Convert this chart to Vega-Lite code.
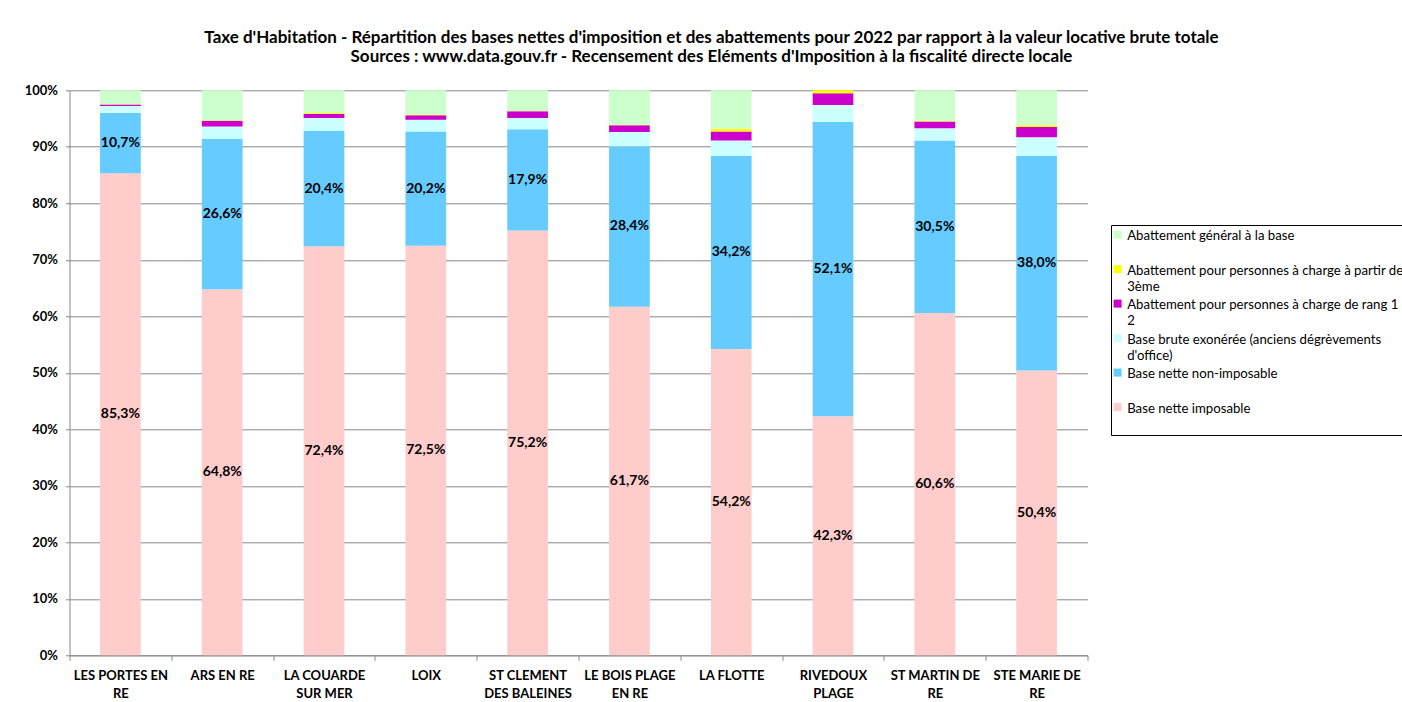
{
  "$schema": "https://vega.github.io/schema/vega-lite/v6.json",
  "width": 1018,
  "height": 565,
  "autosize": {"type": "none"},
  "padding": {"left": 69.5, "top": 90.3, "right": 314.5, "bottom": 46.7},
  "background": "#ffffff",
  "title": {
    "text": ["Taxe d'Habitation - Répartition des bases nettes d'imposition et des abattements pour 2022 par rapport à la valeur locative brute totale", "Sources : www.data.gouv.fr - Recensement des Eléments d'Imposition à la fiscalité directe locale"],
    "anchor": "middle",
    "dx": 133,
    "offset": 18,
    "font": "Lato",
    "fontSize": 17,
    "fontWeight": "bold",
    "lineHeight": 19.5,
    "color": "#000000"
  },
  "config": {
    "locale": {"number": {"decimal": ",", "thousands": " ", "grouping": [3], "currency": ["", " €"]}},
    "view": {"stroke": null},
    "axis": {"labelFont": "Lato", "labelFontWeight": "bold", "labelFontSize": 13, "labelColor": "#000000", "domainColor": "#888888", "tickColor": "#888888", "gridColor": "#888888"}
  },
  "data": {
    "values": [
      {"c": "LES PORTES EN RE", "s": "Base nette imposable", "v": 0.853},
      {"c": "LES PORTES EN RE", "s": "Base nette non-imposable", "v": 0.107},
      {"c": "LES PORTES EN RE", "s": "Base brute exonérée (anciens dégrèvements d'office)", "v": 0.012},
      {"c": "LES PORTES EN RE", "s": "Abattement pour personnes à charge de rang 1 et 2", "v": 0.003},
      {"c": "LES PORTES EN RE", "s": "Abattement pour personnes à charge à partir de la 3ème", "v": 0.0005},
      {"c": "LES PORTES EN RE", "s": "Abattement général à la base", "v": 0.0245},
      {"c": "ARS EN RE", "s": "Base nette imposable", "v": 0.648},
      {"c": "ARS EN RE", "s": "Base nette non-imposable", "v": 0.266},
      {"c": "ARS EN RE", "s": "Base brute exonérée (anciens dégrèvements d'office)", "v": 0.022},
      {"c": "ARS EN RE", "s": "Abattement pour personnes à charge de rang 1 et 2", "v": 0.010},
      {"c": "ARS EN RE", "s": "Abattement pour personnes à charge à partir de la 3ème", "v": 0.001},
      {"c": "ARS EN RE", "s": "Abattement général à la base", "v": 0.053},
      {"c": "LA COUARDE SUR MER", "s": "Base nette imposable", "v": 0.724},
      {"c": "LA COUARDE SUR MER", "s": "Base nette non-imposable", "v": 0.204},
      {"c": "LA COUARDE SUR MER", "s": "Base brute exonérée (anciens dégrèvements d'office)", "v": 0.023},
      {"c": "LA COUARDE SUR MER", "s": "Abattement pour personnes à charge de rang 1 et 2", "v": 0.007},
      {"c": "LA COUARDE SUR MER", "s": "Abattement pour personnes à charge à partir de la 3ème", "v": 0.002},
      {"c": "LA COUARDE SUR MER", "s": "Abattement général à la base", "v": 0.040},
      {"c": "LOIX", "s": "Base nette imposable", "v": 0.725},
      {"c": "LOIX", "s": "Base nette non-imposable", "v": 0.202},
      {"c": "LOIX", "s": "Base brute exonérée (anciens dégrèvements d'office)", "v": 0.021},
      {"c": "LOIX", "s": "Abattement pour personnes à charge de rang 1 et 2", "v": 0.008},
      {"c": "LOIX", "s": "Abattement pour personnes à charge à partir de la 3ème", "v": 0.001},
      {"c": "LOIX", "s": "Abattement général à la base", "v": 0.043},
      {"c": "ST CLEMENT DES BALEINES", "s": "Base nette imposable", "v": 0.752},
      {"c": "ST CLEMENT DES BALEINES", "s": "Base nette non-imposable", "v": 0.179},
      {"c": "ST CLEMENT DES BALEINES", "s": "Base brute exonérée (anciens dégrèvements d'office)", "v": 0.020},
      {"c": "ST CLEMENT DES BALEINES", "s": "Abattement pour personnes à charge de rang 1 et 2", "v": 0.012},
      {"c": "ST CLEMENT DES BALEINES", "s": "Abattement pour personnes à charge à partir de la 3ème", "v": 0.0005},
      {"c": "ST CLEMENT DES BALEINES", "s": "Abattement général à la base", "v": 0.0365},
      {"c": "LE BOIS PLAGE EN RE", "s": "Base nette imposable", "v": 0.617},
      {"c": "LE BOIS PLAGE EN RE", "s": "Base nette non-imposable", "v": 0.284},
      {"c": "LE BOIS PLAGE EN RE", "s": "Base brute exonérée (anciens dégrèvements d'office)", "v": 0.025},
      {"c": "LE BOIS PLAGE EN RE", "s": "Abattement pour personnes à charge de rang 1 et 2", "v": 0.012},
      {"c": "LE BOIS PLAGE EN RE", "s": "Abattement pour personnes à charge à partir de la 3ème", "v": 0.001},
      {"c": "LE BOIS PLAGE EN RE", "s": "Abattement général à la base", "v": 0.061},
      {"c": "LA FLOTTE", "s": "Base nette imposable", "v": 0.542},
      {"c": "LA FLOTTE", "s": "Base nette non-imposable", "v": 0.342},
      {"c": "LA FLOTTE", "s": "Base brute exonérée (anciens dégrèvements d'office)", "v": 0.027},
      {"c": "LA FLOTTE", "s": "Abattement pour personnes à charge de rang 1 et 2", "v": 0.016},
      {"c": "LA FLOTTE", "s": "Abattement pour personnes à charge à partir de la 3ème", "v": 0.005},
      {"c": "LA FLOTTE", "s": "Abattement général à la base", "v": 0.068},
      {"c": "RIVEDOUX PLAGE", "s": "Base nette imposable", "v": 0.423},
      {"c": "RIVEDOUX PLAGE", "s": "Base nette non-imposable", "v": 0.521},
      {"c": "RIVEDOUX PLAGE", "s": "Base brute exonérée (anciens dégrèvements d'office)", "v": 0.030},
      {"c": "RIVEDOUX PLAGE", "s": "Abattement pour personnes à charge de rang 1 et 2", "v": 0.021},
      {"c": "RIVEDOUX PLAGE", "s": "Abattement pour personnes à charge à partir de la 3ème", "v": 0.005},
      {"c": "RIVEDOUX PLAGE", "s": "Abattement général à la base", "v": 0.0},
      {"c": "ST MARTIN DE RE", "s": "Base nette imposable", "v": 0.606},
      {"c": "ST MARTIN DE RE", "s": "Base nette non-imposable", "v": 0.305},
      {"c": "ST MARTIN DE RE", "s": "Base brute exonérée (anciens dégrèvements d'office)", "v": 0.022},
      {"c": "ST MARTIN DE RE", "s": "Abattement pour personnes à charge de rang 1 et 2", "v": 0.012},
      {"c": "ST MARTIN DE RE", "s": "Abattement pour personnes à charge à partir de la 3ème", "v": 0.001},
      {"c": "ST MARTIN DE RE", "s": "Abattement général à la base", "v": 0.054},
      {"c": "STE MARIE DE RE", "s": "Base nette imposable", "v": 0.504},
      {"c": "STE MARIE DE RE", "s": "Base nette non-imposable", "v": 0.380},
      {"c": "STE MARIE DE RE", "s": "Base brute exonérée (anciens dégrèvements d'office)", "v": 0.033},
      {"c": "STE MARIE DE RE", "s": "Abattement pour personnes à charge de rang 1 et 2", "v": 0.018},
      {"c": "STE MARIE DE RE", "s": "Abattement pour personnes à charge à partir de la 3ème", "v": 0.003},
      {"c": "STE MARIE DE RE", "s": "Abattement général à la base", "v": 0.062}
    ]
  },
  "transform": [
    {"calculate": "indexof(['Base nette imposable', 'Base nette non-imposable', \"Base brute exonérée (anciens dégrèvements d'office)\", 'Abattement pour personnes à charge de rang 1 et 2', 'Abattement pour personnes à charge à partir de la 3ème', 'Abattement général à la base'], datum.s)", "as": "o"},
    {"stack": "v", "groupby": ["c"], "sort": [{"field": "o", "order": "ascending"}], "as": ["v0", "v1"]},
    {"calculate": "(datum.v0 + datum.v1) / 2", "as": "mid"}
  ],
  "encoding": {
    "x": {
      "field": "c",
      "type": "nominal",
      "sort": null,
      "scale": {"paddingInner": 0, "paddingOuter": 0},
      "axis": {
        "title": null,
        "labelAngle": 0,
        "tickBand": "extent",
        "tickSize": 5,
        "labelPadding": 9,
        "labelLineHeight": 18.5,
        "labelBaseline": "top",
        "grid": false,
        "labelExpr": "datum.value == 'LES PORTES EN RE' ? ['LES PORTES EN', 'RE'] : datum.value == 'LA COUARDE SUR MER' ? ['LA COUARDE', 'SUR MER'] : datum.value == 'ST CLEMENT DES BALEINES' ? ['ST CLEMENT', 'DES BALEINES'] : datum.value == 'LE BOIS PLAGE EN RE' ? ['LE BOIS PLAGE', 'EN RE'] : datum.value == 'RIVEDOUX PLAGE' ? ['RIVEDOUX', 'PLAGE'] : datum.value == 'ST MARTIN DE RE' ? ['ST MARTIN DE', 'RE'] : datum.value == 'STE MARIE DE RE' ? ['STE MARIE DE', 'RE'] : datum.value"
      }
    }
  },
  "layer": [
    {
      "mark": {"type": "bar", "width": {"band": 0.4}},
      "encoding": {
        "y": {
          "field": "v0",
          "type": "quantitative",
          "scale": {"domain": [0, 1], "nice": false},
          "axis": {"title": null, "values": [0, 0.1, 0.2, 0.3, 0.4, 0.5, 0.6, 0.7, 0.8, 0.9, 1], "format": ".0%", "grid": true, "tickSize": 4, "labelPadding": 8}
        },
        "y2": {"field": "v1"},
        "color": {
          "field": "s",
          "type": "nominal",
          "scale": {
            "domain": ["Abattement général à la base", "Abattement pour personnes à charge à partir de la 3ème", "Abattement pour personnes à charge de rang 1 et 2", "Base brute exonérée (anciens dégrèvements d'office)", "Base nette non-imposable", "Base nette imposable"],
            "range": ["#CCFFCC", "#FFFF00", "#CC00CC", "#CCFFFF", "#66CCFF", "#FFCCCC"]
          },
          "legend": {
            "orient": "none",
            "legendX": 1041.5,
            "legendY": 134.7,
            "title": null,
            "strokeColor": "#000000",
            "fillColor": "#ffffff",
            "padding": 3,
            "symbolType": "square",
            "symbolSize": 64,
            "symbolStrokeWidth": 0,
            "symbolOpacity": 1,
            "symbolOffset": -3,
            "labelFont": "Lato",
            "labelFontSize": 13.2,
            "labelLimit": 500,
            "labelColor": "#000000",
            "labelOffset": 3,
            "rowPadding": 3.5,
            "labelExpr": "datum.label == 'Abattement pour personnes à charge à partir de la 3ème' ? ['Abattement pour personnes à charge à partir de la', '3ème'] : datum.label == 'Abattement pour personnes à charge de rang 1 et 2' ? ['Abattement pour personnes à charge de rang 1 et', '2'] : datum.label == \"Base brute exonérée (anciens dégrèvements d'office)\" ? ['Base brute exonérée (anciens dégrèvements', \"d'office)\"] : [datum.label, '']",
            "encode": {"labels": {"update": {"dy": {"value": 1.5}, "fontSize": {"value": 13.2}, "lineHeight": {"value": 16.3}, "font": {"value": "Lato"}, "fill": {"value": "#000000"}}}}
          }
        },
        "order": {"field": "o", "type": "quantitative"}
      }
    },
    {
      "transform": [{"filter": "datum.o <= 1"}],
      "mark": {"type": "text", "font": "Lato", "fontWeight": "bold", "fontSize": 14, "color": "#000000"},
      "encoding": {
        "y": {"field": "mid", "type": "quantitative"},
        "text": {"field": "v", "type": "quantitative", "format": ".1%"}
      }
    }
  ]
}
